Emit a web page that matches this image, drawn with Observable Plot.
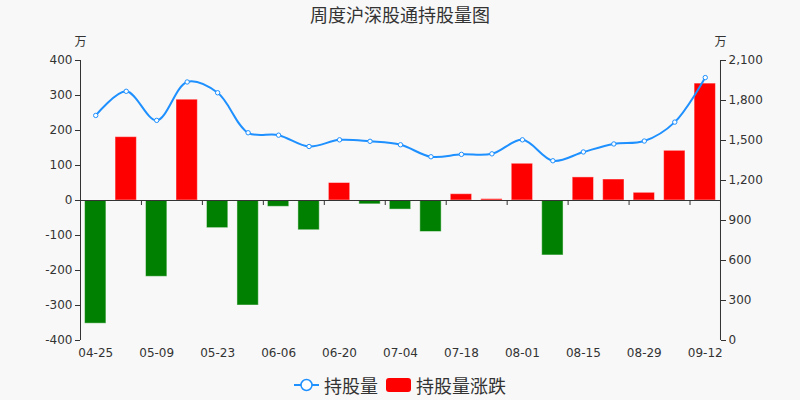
<!DOCTYPE html>
<html><head><meta charset="utf-8">
<script src="https://cdn.jsdelivr.net/npm/d3@7"></script>
<script src="https://cdn.jsdelivr.net/npm/@observablehq/plot@0.6"></script>
<style>
html,body{margin:0;padding:0;background:#f8f8f8;}
body{width:800px;height:400px;overflow:hidden;font-family:"DejaVu Sans","Noto Sans CJK SC",sans-serif;color:#333;}
#title{height:28px;line-height:28px;text-align:center;font-size:18px;font-family:"Noto Sans CJK SC","DejaVu Sans",sans-serif;color:#333;}
#legend{height:30px;display:flex;justify-content:center;align-items:center;font-size:18px;font-family:"Noto Sans CJK SC",sans-serif;color:#333;}
#legend .item{display:flex;align-items:center;margin:0 4px;}
#legend svg{margin-right:5px;}
</style></head>
<body>
<div id="title">周度沪深股通持股量图</div>
<div id="chart"></div>
<div id="legend">
  <div class="item"><svg width="25" height="14"><line x1="0" y1="7" x2="25" y2="7" stroke="#1e90ff" stroke-width="2"/><circle cx="12.5" cy="7" r="5.5" fill="#ffffff" stroke="#1e90ff" stroke-width="1.5"/></svg>持股量</div>
  <div class="item"><svg width="25" height="14"><rect x="0" y="0" width="25" height="14" rx="3" fill="#ff0000"/></svg>持股量涨跌</div>
</div>
<script>
const dates = ["04-25","05-02","05-09","05-16","05-23","05-30","06-06","06-13","06-20","06-27","07-04","07-11","07-18","07-25","08-01","08-08","08-15","08-22","08-29","09-05","09-12"];
const changes = [-352,181,-218,288,-79,-300,-18,-85,50,-11,-26,-90,18,4,105,-157,66,60,22,142,334];
const holdings = [1688,1869,1651,1939,1858,1558,1540,1455,1505,1494,1468,1378,1396,1400,1505,1348,1414,1474,1496,1638,1972];
const leftTicks = [-400,-300,-200,-100,0,100,200,300,400];
const rightTicks = [0,300,600,900,1200,1500,1800,2100];

const toLeft = v => v / 2100 * 800 - 400;
const toRight = y => (y + 400) / 800 * 2100;

const changeData = dates.map((d, i) => ({date: d, value: changes[i]}));
const holdData = dates.map((d, i) => ({date: d, value: toLeft(holdings[i])}));

const W = 800, ML = 80, MR = 80;
const step = (W - ML - MR) / dates.length;
const oddDates = dates.filter((d, i) => i % 2 === 1);

const chart = Plot.plot({
  width: W, height: 342,
  marginTop: 32, marginBottom: 30, marginLeft: ML, marginRight: MR,
  style: {background: "transparent", fontSize: "12px", color: "#333", fontFamily: "'DejaVu Sans', sans-serif", overflow: "visible"},
  x: {domain: dates, paddingInner: 0.3, paddingOuter: 0.15, round: false, axis: null},
  y: {domain: [-400, 400], axis: null},
  marks: [
    Plot.axisY({anchor: "left", ticks: leftTicks, tickSize: 5, tickPadding: 3, label: null, tickFormat: d => String(d)}),
    Plot.axisY({anchor: "right", ticks: rightTicks.map(toLeft), tickSize: 5, tickPadding: 3, label: null,
      tickFormat: y => d3.format(",")(Math.round(toRight(y)))}),
    Plot.axisX({anchor: "bottom", ticks: dates.filter((d, i) => i % 2 === 0), tickSize: 0, tickPadding: 8, label: null}),
    Plot.ruleX([dates[0]], {dx: -step / 2, y1: -400, y2: 400, stroke: "#333"}),
    Plot.ruleX([dates[dates.length - 1]], {dx: step / 2, y1: -400, y2: 400, stroke: "#333"}),
    Plot.barY(changeData, {x: "date", y: "value", fill: d => d.value >= 0 ? "#ff0000" : "#008000",
      stroke: "#ffffff", strokeOpacity: 0.45, strokeWidth: 1}),
    Plot.ruleY([0], {stroke: "#333"}),
    Plot.ruleX(oddDates, {dx: step / 2, y1: 0, y2: -14.3, stroke: "#333"}),
    Plot.line(holdData, {x: "date", y: "value", stroke: "#1e90ff", strokeWidth: 2, curve: "catmull-rom"}),
    Plot.dot(holdData, {x: "date", y: "value", r: 2.2, fill: "#ffffff", stroke: "#1e90ff", strokeWidth: 1}),
    Plot.text(["万"], {frameAnchor: "top-left", dy: -23, textAnchor: "middle", fontSize: 12, fontFamily: "'Noto Sans CJK SC', sans-serif", fill: "#333"}),
    Plot.text(["万"], {frameAnchor: "top-right", dy: -23, textAnchor: "middle", fontSize: 12, fontFamily: "'Noto Sans CJK SC', sans-serif", fill: "#333"})
  ]
});
document.getElementById("chart").appendChild(chart);
</script>
</body></html>
